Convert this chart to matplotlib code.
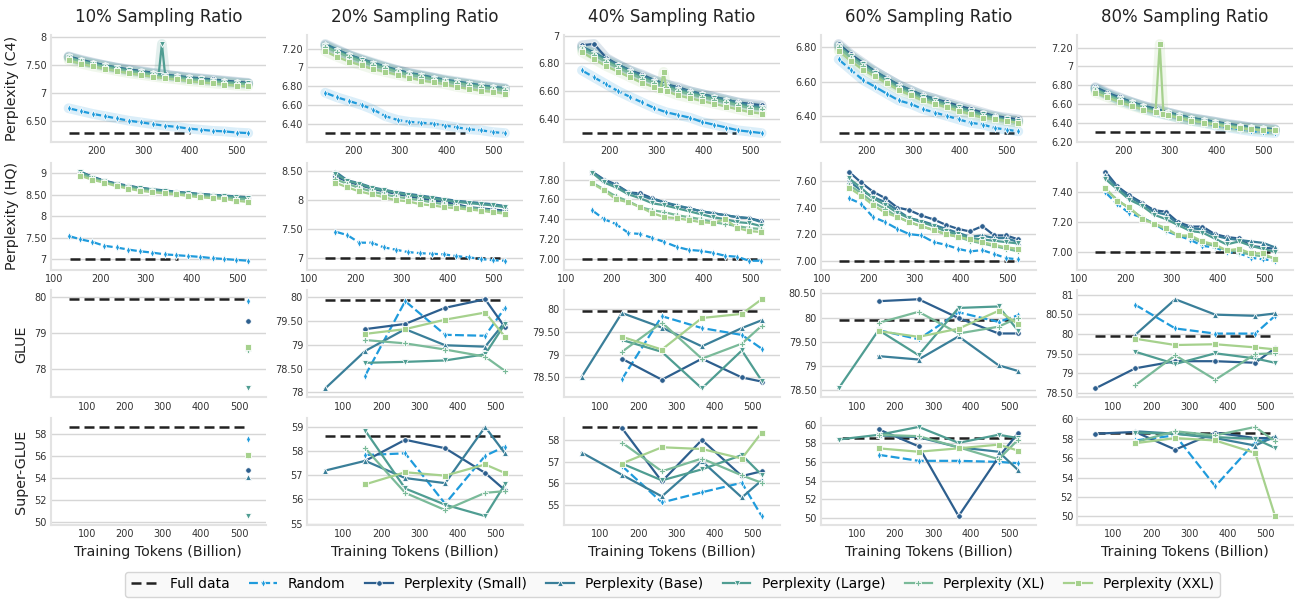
"""
Sampling-ratio grid: perplexity (C4 / HQ), GLUE and Super-GLUE vs training tokens.
"""

import matplotlib
matplotlib.use("Agg")
import matplotlib.pyplot as plt
from matplotlib.lines import Line2D

RATIOS = ["10%", "20%", "40%", "60%", "80%"]
ROW_LABELS = ["Perplexity (C4)", "Perplexity (HQ)", "GLUE", "Super-GLUE"]
NAMES = ["Random", "Perplexity (Small)", "Perplexity (Base)",
         "Perplexity (Large)", "Perplexity (XL)", "Perplexity (XXL)"]

# x positions (billion tokens); shorter series use the tail of the list
X_C4 = [140, 166, 192, 218, 243, 269, 295, 320, 346, 372, 397, 423, 449, 474, 500, 525]
X_HQ = [131, 157, 183, 209, 236, 262, 288, 314, 341, 367, 393, 419, 446, 472, 498, 524]
X_EVAL = [52, 157, 262, 367, 472, 524]

# full data reference values and the x span of the dashed line
FULL = [6.30, 7.00, 79.95, 58.6]
FULL_START = [140, 135, 52, 52]
FULL_END = [[400, 440, 470, 520, 420],
            [370, 525, 525, 515, 520],
            [524, 524, 524, 524, 524],
            [524, 524, 524, 524, 524]]

# runs with a single outlier checkpoint (own x positions)
C4_10_LARGE_X = [140, 166, 192, 218, 243, 269, 295, 320, 333, 340, 347, 372, 397, 423, 449, 474, 500, 525]
C4_10_LARGE = [7.63, 7.57, 7.52, 7.48, 7.44, 7.40, 7.37, 7.34, 7.32, 7.87, 7.31, 7.29, 7.26, 7.24, 7.22, 7.20, 7.18, 7.17]
C4_40_XXL_X = [140, 166, 192, 218, 243, 269, 295, 308, 315, 322, 346, 372, 397, 423, 449, 474, 500, 525]
C4_40_XXL = [6.88, 6.83, 6.78, 6.74, 6.70, 6.66, 6.63, 6.61, 6.74, 6.60, 6.57, 6.55, 6.53, 6.51, 6.49, 6.47, 6.45, 6.44]
C4_80_XXL_X = [140, 166, 192, 218, 243, 269, 278, 286, 295, 320, 346, 372, 397, 423, 449, 474, 500, 525]
C4_80_XXL = [6.72, 6.67, 6.62, 6.58, 6.54, 6.51, 7.24, 6.49, 6.48, 6.45, 6.42, 6.40, 6.38, 6.36, 6.34, 6.33, 6.32, 6.32]

# ---- Perplexity (C4), series order = NAMES
C4_10 = [
    [6.73, 6.68, 6.63, 6.59, 6.55, 6.51, 6.48, 6.45, 6.42, 6.40, 6.37, 6.35, 6.33, 6.32, 6.30, 6.29],
    [7.65, 7.59, 7.54, 7.49, 7.45, 7.42, 7.39, 7.36, 7.33, 7.30, 7.28, 7.26, 7.24, 7.22, 7.20, 7.18],
    [7.64, 7.58, 7.53, 7.49, 7.45, 7.41, 7.38, 7.35, 7.32, 7.30, 7.27, 7.25, 7.23, 7.21, 7.19, 7.17],
    (C4_10_LARGE_X, C4_10_LARGE),
    [7.62, 7.56, 7.51, 7.46, 7.42, 7.38, 7.35, 7.32, 7.29, 7.27, 7.24, 7.22, 7.20, 7.18, 7.16, 7.15],
    [7.58, 7.52, 7.47, 7.43, 7.39, 7.35, 7.32, 7.29, 7.26, 7.24, 7.21, 7.19, 7.17, 7.15, 7.13, 7.12],
]
C4_20 = [
    [6.73, 6.68, 6.64, 6.60, 6.55, 6.48, 6.44, 6.42, 6.41, 6.40, 6.38, 6.36, 6.34, 6.33, 6.31, 6.30],
    [7.24, 7.18, 7.13, 7.08, 7.04, 7.00, 6.97, 6.94, 6.91, 6.89, 6.86, 6.84, 6.82, 6.80, 6.79, 6.77],
    [7.25, 7.19, 7.13, 7.09, 7.05, 7.01, 6.97, 6.94, 6.92, 6.89, 6.87, 6.85, 6.83, 6.81, 6.79, 6.78],
    [7.23, 7.17, 7.12, 7.08, 7.04, 7.00, 6.96, 6.93, 6.91, 6.88, 6.86, 6.84, 6.82, 6.80, 6.78, 6.77],
    [7.22, 7.16, 7.11, 7.06, 7.02, 6.99, 6.95, 6.92, 6.90, 6.87, 6.85, 6.83, 6.81, 6.79, 6.77, 6.76],
    [7.17, 7.11, 7.06, 7.02, 6.98, 6.95, 6.92, 6.89, 6.86, 6.84, 6.82, 6.79, 6.77, 6.75, 6.74, 6.72],
]
C4_40 = [
    [6.75, 6.70, 6.65, 6.60, 6.56, 6.52, 6.48, 6.45, 6.43, 6.41, 6.38, 6.36, 6.34, 6.32, 6.31, 6.30],
    [6.93, 6.94, 6.84, 6.79, 6.75, 6.72, 6.68, 6.65, 6.63, 6.60, 6.58, 6.56, 6.54, 6.52, 6.51, 6.50],
    [6.92, 6.88, 6.83, 6.79, 6.75, 6.71, 6.68, 6.65, 6.62, 6.60, 6.58, 6.56, 6.54, 6.52, 6.50, 6.49],
    [6.91, 6.87, 6.82, 6.78, 6.74, 6.70, 6.67, 6.64, 6.61, 6.59, 6.57, 6.55, 6.53, 6.51, 6.49, 6.48],
    [6.90, 6.86, 6.81, 6.77, 6.73, 6.69, 6.66, 6.63, 6.60, 6.58, 6.56, 6.54, 6.52, 6.50, 6.48, 6.47],
    (C4_40_XXL_X, C4_40_XXL),
]
C4_60 = [
    [6.73, 6.67, 6.61, 6.57, 6.53, 6.49, 6.47, 6.44, 6.42, 6.40, 6.38, 6.36, 6.35, 6.33, 6.32, 6.31],
    [6.82, 6.76, 6.71, 6.66, 6.62, 6.58, 6.55, 6.52, 6.50, 6.48, 6.46, 6.44, 6.42, 6.40, 6.39, 6.38],
    [6.81, 6.75, 6.70, 6.66, 6.62, 6.58, 6.55, 6.52, 6.50, 6.47, 6.45, 6.43, 6.41, 6.40, 6.38, 6.37],
    [6.81, 6.75, 6.70, 6.65, 6.61, 6.57, 6.54, 6.51, 6.49, 6.47, 6.45, 6.43, 6.41, 6.39, 6.38, 6.37],
    [6.80, 6.74, 6.69, 6.64, 6.60, 6.56, 6.53, 6.50, 6.48, 6.46, 6.44, 6.42, 6.40, 6.39, 6.37, 6.36],
    [6.78, 6.72, 6.67, 6.63, 6.59, 6.55, 6.52, 6.49, 6.47, 6.45, 6.43, 6.41, 6.39, 6.38, 6.37, 6.36],
]
C4_80 = [
    [6.76, 6.70, 6.64, 6.59, 6.55, 6.51, 6.48, 6.45, 6.42, 6.40, 6.37, 6.35, 6.33, 6.31, 6.30, 6.29],
    [6.78, 6.72, 6.67, 6.62, 6.58, 6.55, 6.51, 6.48, 6.45, 6.43, 6.41, 6.39, 6.37, 6.35, 6.34, 6.33],
    [6.77, 6.71, 6.66, 6.62, 6.58, 6.54, 6.51, 6.48, 6.45, 6.43, 6.41, 6.38, 6.37, 6.35, 6.34, 6.33],
    [6.76, 6.70, 6.65, 6.61, 6.57, 6.53, 6.50, 6.47, 6.44, 6.42, 6.40, 6.38, 6.36, 6.34, 6.33, 6.32],
    [6.75, 6.69, 6.64, 6.60, 6.56, 6.52, 6.49, 6.46, 6.44, 6.41, 6.39, 6.37, 6.35, 6.34, 6.32, 6.31],
    (C4_80_XXL_X, C4_80_XXL),
]

# ---- Perplexity (HQ)
HQ_10 = [
    [7.54, 7.46, 7.40, 7.31, 7.27, 7.22, 7.18, 7.15, 7.11, 7.09, 7.07, 7.05, 7.02, 7.00, 6.98, 6.96],
    [9.03, 8.92, 8.83, 8.76, 8.71, 8.66, 8.62, 8.59, 8.56, 8.54, 8.51, 8.49, 8.47, 8.45, 8.43],
    [9.04, 8.91, 8.82, 8.75, 8.70, 8.66, 8.63, 8.60, 8.57, 8.54, 8.52, 8.50, 8.48, 8.46, 8.44],
    [9.02, 8.90, 8.81, 8.74, 8.69, 8.65, 8.61, 8.58, 8.55, 8.53, 8.50, 8.48, 8.46, 8.44, 8.42],
    [8.98, 8.88, 8.80, 8.72, 8.66, 8.62, 8.58, 8.55, 8.53, 8.50, 8.47, 8.45, 8.43, 8.40, 8.38],
    [8.94, 8.85, 8.78, 8.70, 8.64, 8.59, 8.56, 8.53, 8.51, 8.47, 8.44, 8.42, 8.40, 8.36, 8.33],
]
HQ_20 = [
    [7.46, 7.40, 7.27, 7.27, 7.19, 7.15, 7.11, 7.09, 7.08, 7.07, 7.04, 7.02, 6.99, 6.97, 6.96],
    [8.41, 8.32, 8.26, 8.20, 8.15, 8.11, 8.07, 8.03, 8.00, 7.97, 7.93, 7.88, 7.86, 7.84, 7.82],
    [8.49, 8.34, 8.29, 8.22, 8.18, 8.14, 8.11, 8.08, 8.05, 8.02, 7.99, 7.97, 7.95, 7.93, 7.90],
    [8.45, 8.33, 8.28, 8.21, 8.17, 8.13, 8.09, 8.06, 8.03, 8.00, 7.97, 7.95, 7.93, 7.91, 7.88],
    [8.36, 8.28, 8.21, 8.15, 8.10, 8.06, 8.03, 8.00, 7.96, 7.93, 7.90, 7.87, 7.85, 7.82, 7.79],
    [8.30, 8.22, 8.15, 8.10, 8.05, 8.00, 7.98, 7.93, 7.91, 7.88, 7.86, 7.84, 7.82, 7.79, 7.77],
]
HQ_40 = [
    [7.49, 7.40, 7.35, 7.26, 7.25, 7.21, 7.17, 7.12, 7.09, 7.08, 7.06, 7.03, 7.02, 6.98, 6.98],
    [7.88, 7.80, 7.75, 7.67, 7.66, 7.61, 7.57, 7.53, 7.51, 7.48, 7.46, 7.44, 7.42, 7.41, 7.38],
    [7.88, 7.79, 7.74, 7.67, 7.64, 7.60, 7.57, 7.54, 7.51, 7.48, 7.46, 7.44, 7.42, 7.41, 7.37],
    [7.87, 7.77, 7.72, 7.65, 7.61, 7.56, 7.54, 7.51, 7.48, 7.45, 7.42, 7.40, 7.37, 7.36, 7.33],
    [7.77, 7.70, 7.63, 7.58, 7.52, 7.49, 7.47, 7.44, 7.42, 7.40, 7.37, 7.35, 7.33, 7.31, 7.30],
    [7.76, 7.69, 7.60, 7.57, 7.52, 7.46, 7.42, 7.41, 7.39, 7.37, 7.36, 7.40, 7.31, 7.28, 7.27],
]
HQ_60 = [
    [7.47, 7.43, 7.33, 7.29, 7.24, 7.20, 7.19, 7.14, 7.12, 7.09, 7.07, 7.08, 7.05, 7.02, 7.01],
    [7.67, 7.59, 7.52, 7.47, 7.40, 7.38, 7.34, 7.31, 7.27, 7.24, 7.22, 7.26, 7.19, 7.19, 7.16],
    [7.60, 7.53, 7.48, 7.44, 7.38, 7.32, 7.30, 7.27, 7.24, 7.21, 7.18, 7.19, 7.17, 7.17, 7.14],
    [7.62, 7.55, 7.47, 7.42, 7.36, 7.32, 7.29, 7.26, 7.22, 7.20, 7.17, 7.16, 7.15, 7.14, 7.13],
    [7.57, 7.51, 7.44, 7.39, 7.33, 7.29, 7.26, 7.23, 7.20, 7.18, 7.15, 7.13, 7.11, 7.09, 7.07],
    [7.55, 7.49, 7.42, 7.36, 7.33, 7.29, 7.26, 7.23, 7.20, 7.18, 7.16, 7.14, 7.12, 7.10, 7.09],
]
HQ_80 = [
    [7.40, 7.32, 7.26, 7.23, 7.19, 7.14, 7.11, 7.08, 7.04, 7.03, 7.00, 6.99, 6.96, 6.95, 6.94],
    [7.54, 7.44, 7.38, 7.33, 7.28, 7.27, 7.20, 7.17, 7.17, 7.12, 7.10, 7.09, 7.04, 7.03, 7.02],
    [7.52, 7.43, 7.37, 7.32, 7.27, 7.25, 7.19, 7.16, 7.15, 7.11, 7.09, 7.08, 7.07, 7.06, 7.03],
    [7.49, 7.42, 7.35, 7.31, 7.25, 7.22, 7.18, 7.14, 7.13, 7.09, 7.05, 7.07, 7.04, 7.02, 7.00],
    [7.42, 7.35, 7.29, 7.23, 7.19, 7.15, 7.11, 7.10, 7.06, 7.04, 7.01, 7.00, 6.98, 6.97, 6.96],
    [7.43, 7.34, 7.30, 7.22, 7.19, 7.16, 7.11, 7.11, 7.07, 7.05, 7.01, 7.02, 6.99, 6.99, 6.95],
]

# ---- GLUE
GLUE_10 = [[79.90], [79.33], [78.58], [77.45], [78.53], [78.60]]
GLUE_20 = [
    [78.35, 79.92, 79.21, 79.19, 79.78],
    [79.33, 79.44, 79.78, 79.96, 79.37],
    [78.08, 78.87, 79.33, 78.99, 78.96, 79.48],
    [78.62, 78.64, 78.67, 78.80, 79.44],
    [79.10, 79.03, 78.90, 78.75, 78.45],
    [79.23, 79.33, 79.53, 79.68, 79.17],
]
GLUE_40 = [
    [78.46, 79.84, 79.58, 79.43, 79.13],
    [78.91, 78.45, 78.91, 78.50, 78.41],
    [78.52, 79.91, 79.59, 79.18, 79.58, 79.75],
    [79.32, 79.06, 78.26, 79.09, 78.43],
    [79.06, 79.70, 78.91, 79.24, 79.63],
    [79.39, 79.11, 79.80, 79.89, 80.21],
]
GLUE_60 = [
    [79.74, 79.55, 80.11, 79.91, 80.05],
    [80.34, 80.38, 79.99, 79.67, 79.67],
    [79.20, 79.13, 79.61, 79.01, 78.89],
    [78.53, 79.74, 79.22, 80.20, 80.23, 79.72],
    [79.89, 80.12, 79.67, 79.81, 80.00],
    [79.72, 79.60, 79.77, 80.14, 79.86],
]
GLUE_80 = [
    [80.74, 80.14, 80.01, 80.01, 80.46],
    [78.62, 79.13, 79.31, 79.31, 79.27, 79.64],
    [79.98, 80.88, 80.49, 80.46, 80.52],
    [79.55, 79.24, 79.51, 79.38, 79.27],
    [78.70, 79.46, 78.84, 79.49, 79.51],
    [79.88, 79.72, 79.74, 79.66, 79.61],
]

# ---- Super-GLUE
SGLUE_10 = [[57.53], [54.72], [54.10], [50.53], [56.00], [56.10]]
SGLUE_20 = [
    [57.83, 57.90, 55.82, 57.80, 58.18],
    [57.59, 58.46, 58.11, 57.09, 56.38],
    [57.19, 57.59, 56.88, 56.67, 58.99, 57.90],
    [58.84, 56.45, 55.78, 55.31, 56.62],
    [58.11, 56.27, 55.56, 56.27, 56.34],
    [56.62, 57.12, 56.98, 57.44, 57.09],
]
SGLUE_40 = [
    [56.80, 55.11, 55.58, 56.02, 54.48],
    [58.55, 56.08, 58.00, 56.33, 56.55],
    [57.41, 56.39, 55.39, 57.02, 55.34, 56.13],
    [56.91, 56.13, 56.64, 57.30, 56.39],
    [57.88, 56.55, 57.14, 56.36, 56.02],
    [56.91, 57.66, 57.58, 57.14, 58.34],
]
SGLUE_60 = [
    [56.76, 56.11, 56.11, 56.00, 55.85],
    [59.49, 57.67, 50.18, 56.50, 59.13],
    [58.84, 58.65, 57.56, 57.09, 55.09],
    [58.40, 58.90, 59.75, 58.04, 58.91, 58.55],
    [58.90, 58.76, 57.56, 56.29, 58.40],
    [57.45, 57.09, 57.45, 57.85, 57.20],
]
SGLUE_80 = [
    [57.83, 58.36, 53.11, 57.66, 58.08],
    [58.53, 58.71, 56.89, 58.64, 58.08, 58.08],
    [58.78, 58.53, 58.08, 57.31, 58.25],
    [58.64, 58.53, 58.18, 58.00, 57.06],
    [57.66, 58.78, 58.36, 59.23, 57.73],
    [57.55, 58.08, 57.83, 56.54, 50.03],
]

ROWS = [
    (X_C4, [C4_10, C4_20, C4_40, C4_60, C4_80]),
    (X_HQ, [HQ_10, HQ_20, HQ_40, HQ_60, HQ_80]),
    (X_EVAL, [GLUE_10, GLUE_20, GLUE_40, GLUE_60, GLUE_80]),
    (X_EVAL, [SGLUE_10, SGLUE_20, SGLUE_40, SGLUE_60, SGLUE_80]),
]

YTICKS = [
    [[6.5, 7, 7.5, 8], [6.2, 6.4, 6.6, 6.8, 7.0, 7.2], [6.4, 6.6, 6.8, 7.0],
     [6.4, 6.6, 6.8], [6.2, 6.4, 6.6, 6.8, 7.0, 7.2]],
    [[7, 7.5, 8, 8.5, 9], [7, 7.5, 8, 8.5], [7.0, 7.2, 7.4, 7.6, 7.8],
     [7.0, 7.2, 7.4, 7.6], [7.0, 7.2, 7.4]],
    [[78, 79, 80], [78, 78.5, 79, 79.5, 80], [78.5, 79, 79.5, 80],
     [78.5, 79, 79.5, 80, 80.5], [78.5, 79, 79.5, 80, 80.5, 81]],
    [[50, 52, 54, 56, 58], [55, 56, 57, 58, 59], [55, 56, 57, 58],
     [50, 52, 54, 56, 58, 60], [50, 52, 54, 56, 58, 60]],
]
YTICKLABELS = [
    [["6.50", "7", "7.50", "8"], ["6.20", "6.40", "6.60", "6.80", "7", "7.20"],
     ["6.40", "6.60", "6.80", "7"], ["6.40", "6.60", "6.80"],
     ["6.20", "6.40", "6.60", "6.80", "7", "7.20"]],
    [["7", "7.50", "8", "8.50", "9"], ["7", "7.50", "8", "8.50"],
     ["7.00", "7.20", "7.40", "7.60", "7.80"], ["7.00", "7.20", "7.40", "7.60"],
     ["7.00", "7.20", "7.40"]],
    [["78", "79", "80"], ["78", "78.50", "79", "79.50", "80"],
     ["78.50", "79", "79.50", "80"], ["78.50", "79", "79.50", "80", "80.50"],
     ["78.50", "79", "79.50", "80", "80.50", "81"]],
    [["50", "52", "54", "56", "58"], ["55", "56", "57", "58", "59"],
     ["55", "56", "57", "58"], ["50", "52", "54", "56", "58", "60"],
     ["50", "52", "54", "56", "58", "60"]],
]
XTICKS = [100, 200, 300, 400, 500]

COLORS = ["#1f9bdc", "#2d5f8e", "#3a7f99", "#4f9d92", "#7aba99", "#a6d18d"]
MARKERS = ["d", "o", "^", "v", "P", "s"]
STYLES = [(0, (4, 1.5)), "-", "-", "-", "-", "-"]
FULL_COLOR = "#222222"
FULL_STYLE = (0, (4, 2))


def style_axis(ax):
    for side in ["top", "right"]:
        ax.spines[side].set_visible(False)
    for side in ["left", "bottom"]:
        ax.spines[side].set_color("#e3e3e3")
        ax.spines[side].set_linewidth(1.5)
    ax.grid(axis="y", color="#d6d6d6", lw=1.0)
    ax.set_axisbelow(True)
    ax.tick_params(length=0, labelsize=7, colors="#333333", pad=3)


def draw_panel(ax, r, c):
    xs, panels = ROWS[r]
    data = panels[c]
    ax.plot([FULL_START[r], FULL_END[r][c]], [FULL[r], FULL[r]],
            color=FULL_COLOR, ls=FULL_STYLE, lw=1.8, zorder=2)
    for i, series in enumerate(data):
        if isinstance(series, tuple):
            x, ys = series
        else:
            ys = series
            x = xs[-len(ys):]
        if r == 0:
            # dense, overlapping runs give a pale band around each curve
            ax.plot(x, ys, color=COLORS[i], lw=7, alpha=0.16,
                    solid_capstyle="round", zorder=2)
        ax.plot(x, ys, color=COLORS[i], ls=STYLES[i], lw=1.6,
                marker=MARKERS[i], ms=4, mec="white", mew=0.6, zorder=3)
    ax.margins(0.1)
    xlim, ylim = ax.get_xlim(), ax.get_ylim()
    ax.set_xticks(XTICKS)
    ax.set_yticks(YTICKS[r][c], YTICKLABELS[r][c])
    ax.set_xlim(xlim)
    ax.set_ylim(ylim)


def main():
    fig, axes = plt.subplots(4, 5, figsize=(12.96, 5.99), dpi=100)
    fig.subplots_adjust(left=0.039, right=0.9977, top=0.9416, bottom=0.1235,
                        wspace=0.19, hspace=0.193)

    for r in range(4):
        for c in range(5):
            ax = axes[r, c]
            style_axis(ax)
            draw_panel(ax, r, c)
            if r == 0:
                ax.set_title(f"{RATIOS[c]} Sampling Ratio", fontsize=12,
                             color="#222222", pad=9)
            if r == 3:
                ax.set_xlabel("Training Tokens (Billion)", fontsize=10.3,
                              color="#222222")
            if c == 0:
                ax.set_ylabel(ROW_LABELS[r], fontsize=10.3, color="#222222")

    handles = [Line2D([], [], color=FULL_COLOR, ls=FULL_STYLE, lw=1.8,
                      label="Full data")]
    for i, name in enumerate(NAMES):
        handles.append(Line2D([], [], color=COLORS[i], ls=STYLES[i], lw=1.6,
                              marker=MARKERS[i], ms=4, mec="white", mew=0.6,
                              label=name))
    leg = fig.legend(handles=handles, loc="lower center", ncol=7,
                     bbox_to_anchor=(0.519, -0.008), fontsize=10, frameon=True,
                     columnspacing=1.4, handlelength=2.0)
    leg.get_frame().set_edgecolor("#cccccc")
    leg.get_frame().set_facecolor("#f8f8f8")

    fig.savefig("out.png", dpi=100)
    plt.close(fig)


if __name__ == "__main__":
    main()
